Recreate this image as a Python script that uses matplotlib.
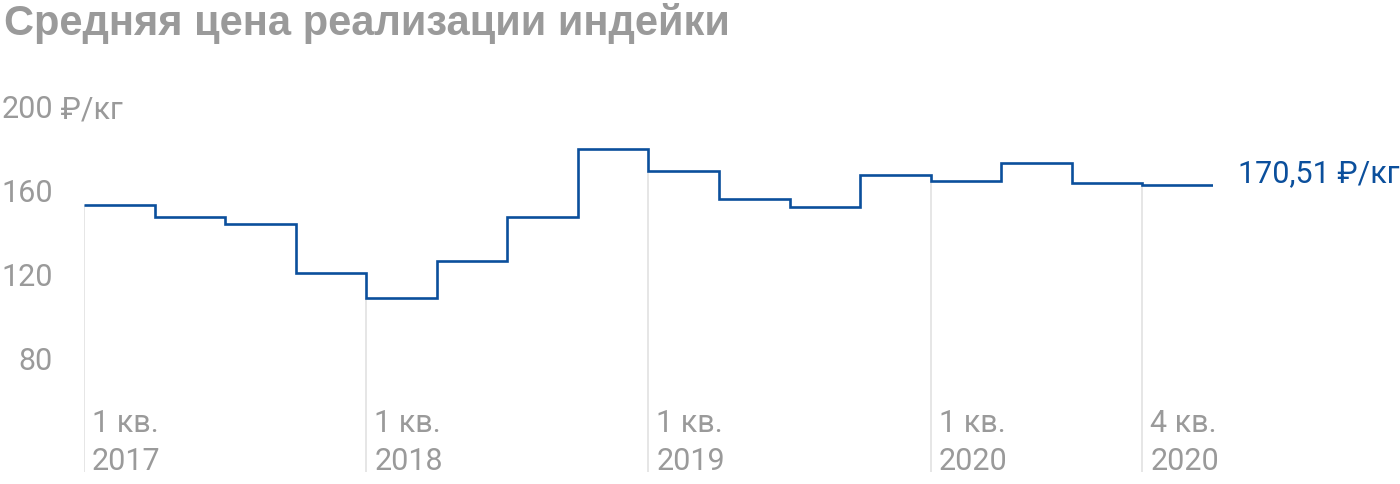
import matplotlib
matplotlib.use("Agg")
import matplotlib.pyplot as plt
import matplotlib.transforms as mtransforms
import numpy as np

# Data
quarters = ["1 кв. 2017", "2 кв. 2017", "3 кв. 2017", "4 кв. 2017",
            "1 кв. 2018", "2 кв. 2018", "3 кв. 2018", "4 кв. 2018",
            "1 кв. 2019", "2 кв. 2019", "3 кв. 2019", "4 кв. 2019",
            "1 кв. 2020", "2 кв. 2020", "3 кв. 2020", "4 кв. 2020"]
prices = [154.9, 149.2, 145.6, 122.5,
          110.3, 128.3, 149.2, 181.6,
          171.1, 157.8, 154.0, 169.2,
          166.4, 174.9, 165.4, 164.5]
label_idx = [0, 4, 8, 12, 15]
label_top = ["1 кв.", "1 кв.", "1 кв.", "1 кв.", "4 кв."]
label_bottom = ["2017", "2018", "2019", "2020", "2020"]
y_ticks = [200, 160, 120, 80]
y_tick_labels = ["200", "160", "120", "80"]
y_unit = " ₽/кг"
last_label = "170,51 ₽/кг"
title = "Средняя цена реализации индейки"

W, H = 1400, 484
fig = plt.figure(figsize=(W / 100, H / 100), dpi=100)
fam = ["Roboto", "DejaVu Sans"]
FS = 22

BLUE = "#0b4f9c"
GRAY = "#9a9a9a"
GRID = "#e2e2e2"

left_px, right_px = 84, 1213
top_px, bot_px = 100, 472
ax = fig.add_axes([left_px / W, (H - bot_px) / H, (right_px - left_px) / W, (bot_px - top_px) / H])
# 200 at y=110px, 80 at y=362px
ppu = (362 - 110) / 120.0
ymax = 200 + (110 - top_px) / ppu
ymin = 80 - (bot_px - 362) / ppu
ax.set_xlim(0, len(prices))
ax.set_ylim(ymin, ymax)
ax.axis("off")

edges = np.arange(len(prices) + 1)
for i in label_idx:
    ax.vlines(i, ymin, prices[i], color=GRID, lw=1.2, zorder=1)
ax.stairs(prices, edges, baseline=None, color=BLUE, lw=1.9, zorder=3)

# y tick labels (numbers right-aligned, unit after the top one)
tr_y = mtransforms.blended_transform_factory(fig.transFigure, ax.transData)
for k, (v, t) in enumerate(zip(y_ticks, y_tick_labels)):
    tx = fig.text(53 / W, v, t, transform=tr_y, ha="right", va="center",
                  fontsize=FS, color=GRAY, family=fam)
    if k == 0:
        fig.text(53 / W, v, y_unit, transform=tr_y, ha="left", va="center",
                 fontsize=FS, color=GRAY, family=fam)

# x labels
step_px = (right_px - left_px) / len(prices)
tr_x = mtransforms.blended_transform_factory(ax.transData, fig.transFigure)
for i, t1, t2 in zip(label_idx, label_top, label_bottom):
    xo = i + 8 / step_px
    fig.text(xo, 1 - 423 / H, t1, transform=tr_x, ha="left", va="center",
             fontsize=FS, color=GRAY, family=fam)
    fig.text(xo, 1 - 462 / H, t2, transform=tr_x, ha="left", va="center",
             fontsize=FS, color=GRAY, family=fam)

# end label
ax.text(len(prices) + 25 / step_px, prices[-1] + 5.0,
        last_label, ha="left", va="center", fontsize=FS, color=BLUE, family=fam,
        clip_on=False)

fig.text(4 / W, 1 - 24 / H, title, ha="left", va="center", fontsize=30,
         fontweight="bold", color=GRAY, family=["Liberation Sans", "DejaVu Sans"])

fig.savefig("out.png", dpi=100)
